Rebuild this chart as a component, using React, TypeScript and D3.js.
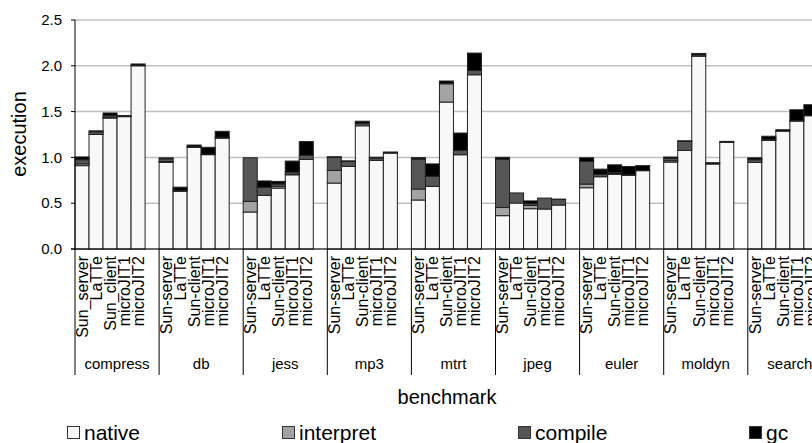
import React from 'react';
import * as d3 from 'd3';

const benchmarks = ['compress', 'db', 'jess', 'mp3', 'mtrt', 'jpeg', 'euler', 'moldyn', 'search'];
const configs = ['Sun-server', 'LaTTe', 'Sun-client', 'microJIT1', 'microJIT2'];
const compressConfigs = ['Sun_server', 'LaTTe', 'Sun_client', 'microJIT1', 'microJIT2'];
const series = ['native', 'interpret', 'compile', 'gc'];
const yTicks = [0, 0.5, 1.0, 1.5, 2.0, 2.5];

// one row per benchmark, one value per config
const native = [
  [0.91, 1.25, 1.43, 1.445, 2.0],
  [0.945, 0.63, 1.11, 1.03, 1.21],
  [0.404, 0.585, 0.665, 0.81, 0.978],
  [0.72, 0.902, 1.345, 0.967, 1.047],
  [0.535, 0.684, 1.604, 1.029, 1.902],
  [0.364, 0.502, 0.44, 0.436, 0.48],
  [0.669, 0.789, 0.815, 0.804, 0.855],
  [0.949, 1.076, 2.105, 0.928, 1.164],
  [0.945, 1.185, 1.287, 1.396, 1.455],
];
const interpret = [
  [0.02, 0, 0.005, 0, 0],
  [0.01, 0, 0, 0, 0],
  [0.116, 0, 0.02, 0.005, 0],
  [0.138, 0, 0.02, 0, 0],
  [0.12, 0, 0.2, 0, 0],
  [0.09, 0, 0.035, 0, 0],
  [0.04, 0, 0.01, 0, 0],
  [0.015, 0, 0, 0, 0],
  [0, 0, 0, 0, 0],
];
const compile = [
  [0.045, 0.03, 0.02, 0, 0.005],
  [0.03, 0.01, 0.005, 0.005, 0.01],
  [0.476, 0.088, 0.025, 0.025, 0.045],
  [0.142, 0.055, 0.01, 0.027, 0],
  [0.327, 0.11, 0, 0.047, 0.047],
  [0.527, 0.11, 0.02, 0.12, 0.06],
  [0.247, 0.025, 0.01, 0.007, 0],
  [0.025, 0.1, 0.015, 0, 0],
  [0.03, 0.01, 0, 0.008, 0],
];
const gc = [
  [0.03, 0.01, 0.03, 0.012, 0.015],
  [0.01, 0.035, 0.02, 0.075, 0.065],
  [0, 0.07, 0.028, 0.12, 0.15],
  [0.007, 0.005, 0.02, 0.008, 0.012],
  [0.015, 0.135, 0.03, 0.19, 0.19],
  [0.02, 0, 0.03, 0, 0.005],
  [0.04, 0.058, 0.084, 0.09, 0.055],
  [0.015, 0.005, 0.015, 0.014, 0.011],
  [0.02, 0.036, 0.015, 0.116, 0.12],
];

const colors = ['#f8f8f8', '#a3a3a3', '#565656', '#000000'];
const legendX = [67, 282, 518, 749];

const W = 812;
const H = 443;
const font = "'Liberation Sans', Arial, sans-serif";

export default function App() {
  const left = 75;
  const top = 20;
  const bottom = 249;
  const groupW = 84.1;

  const y = d3.scaleLinear().domain([0, 2.5]).range([bottom, top]);
  const gx = d3.scaleBand().domain(benchmarks).range([left, left + groupW * benchmarks.length]);
  // 6 slots per group, the last one left empty
  const bx = d3.scaleBand().domain(d3.range(6).map(String)).range([0, gx.bandwidth()]);

  const values = [native, interpret, compile, gc];
  const stack = d3.stack<number[]>().keys(series.map((_, i) => String(i))).value((d, k) => d[+k]);

  return (
    <svg width={W} height={H} style={{ position: 'absolute', left: 0, top: 0, background: '#fff' }} fontFamily={font}>
      {yTicks.map(t => (
        <g key={t}>
          <line x1={left} x2={W} y1={y(t)} y2={y(t)} stroke="#c0c0c0" strokeWidth={1.5} />
          <line x1={left - 4} x2={left} y1={y(t)} y2={y(t)} stroke="#000" />
          <text x={62} y={y(t)} dy="0.35em" textAnchor="end" fontSize={15} fill="#000">
            {d3.format('.1f')(t)}
          </text>
        </g>
      ))}

      {benchmarks.map((b, bi) => {
        const rows = configs.map((_, ci) => values.map(v => v[bi][ci]));
        const stacked = stack(rows);
        const labels = bi === 0 ? compressConfigs : configs;
        return (
          <g key={b} transform={`translate(${gx(b)},0)`}>
            {stacked.map((layer, si) =>
              layer.map((seg, ci) =>
                seg[1] - seg[0] > 0 ? (
                  <rect
                    key={`${si}-${ci}`}
                    x={bx(String(ci))}
                    y={y(seg[1])}
                    width={bx.bandwidth()}
                    height={y(seg[0]) - y(seg[1])}
                    fill={colors[si]}
                    stroke="#222"
                    strokeWidth={1}
                  />
                ) : null
              )
            )}
            {labels.map((l, ci) => {
              const cx = (bx(String(ci)) || 0) + bx.bandwidth() / 2;
              return (
                <text
                  key={l}
                  transform={`translate(${cx},256) rotate(-90)`}
                  dy="0.36em"
                  textAnchor="end"
                  fontSize={16}
                  fill="#000"
                >
                  {l}
                </text>
              );
            })}
            <line x1={0} x2={0} y1={bottom} y2={375} stroke="#000" />
            <text x={gx.bandwidth() / 2} y={369} textAnchor="middle" fontSize={15} fill="#000">{b}</text>
          </g>
        );
      })}

      <line x1={left} x2={left} y1={top} y2={bottom} stroke="#000" />
      <line x1={left - 4} x2={W} y1={bottom} y2={bottom} stroke="#000" />

      <text x={447} y={404} textAnchor="middle" fontSize={20} fill="#000">benchmark</text>
      <text transform={`translate(26,134) rotate(-90)`} textAnchor="middle" fontSize={20} fill="#000">execution</text>

      {series.map((s, i) => (
        <g key={s} transform={`translate(${legendX[i]},426)`}>
          <rect x={0.5} y={0.5} width={12} height={12} fill={colors[i]} stroke="#333" />
          <text x={17} y={6.5} dy="0.36em" fontSize={21} fill="#000">{s}</text>
        </g>
      ))}
    </svg>
  );
}
